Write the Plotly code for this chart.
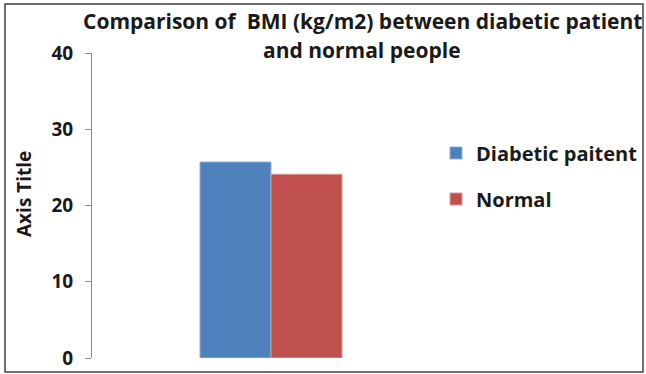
import plotly.graph_objects as go

categories = ["BMI"]
series_names = ["Diabetic paitent", "Normal"]
diabetic_values = [25.7]
normal_values = [24.1]
y_ticks = [0, 10, 20, 30, 40]
title_lines = ["Comparison of  BMI (kg/m2) between diabetic patient", "and normal people"]
y_title = "Axis Title"

FONT = "Open Sans"
TXT = "#1a1a1a"

fig = go.Figure()
fig.add_trace(go.Bar(x=categories, y=diabetic_values, name=series_names[0],
                     marker=dict(color="#4F81BD", line=dict(color="#8EB0DA", width=1)),
                     legendgroup="a"))
fig.add_trace(go.Bar(x=categories, y=normal_values, name=series_names[1],
                     marker=dict(color="#C0504D", line=dict(color="#DC9A98", width=1)),
                     legendgroup="b"))

L, R, T, B = 92, 6, 53, 16
W, H = 646 - L - R, 374 - T - B

def px(x):
    return (x - L) / W

def py(y):
    return (374 - B - y) / H

# x range so the bar group (0.8 units wide) is 142 px wide and centred at 271 px
u = 142 / 0.8
x0 = -(271 - L) / u
x1 = x0 + W / u

fig.update_layout(
    width=646, height=374,
    margin=dict(l=L, r=R, t=T, b=B, autoexpand=False),
    paper_bgcolor="white", plot_bgcolor="white",
    barmode="group", bargap=0.2, bargroupgap=0,
    font=dict(family=FONT, color=TXT),
    legend=dict(x=px(436), y=py(176), xanchor="left", yanchor="middle",
                font=dict(family=FONT, size=20, color=TXT, weight="bold"),
                tracegroupgap=17, itemwidth=30, bgcolor="rgba(0,0,0,0)"),
    xaxis=dict(range=[x0, x1], showline=False, showticklabels=False, ticks="",
               showgrid=False, zeroline=False, automargin=False),
    yaxis=dict(range=[0, 40], tickvals=y_ticks, showgrid=False, zeroline=False,
               showline=True, linecolor="#8c8c8c", linewidth=1,
               ticks="outside", ticklen=6, tickcolor="#8c8c8c",
               tickfont=dict(family=FONT, size=19, color=TXT, weight="bold"),
               ticklabelstandoff=8, automargin=False),
)

for text, ypix in zip(title_lines, [21, 50]):
    fig.add_annotation(text=text, xref="paper", yref="paper", x=px(362), y=py(ypix),
                       xanchor="center", yanchor="middle", showarrow=False,
                       font=dict(family=FONT, size=21, color=TXT, weight="bold"))

fig.add_annotation(text=y_title, xref="paper", yref="paper", x=px(24), y=py(194),
                   xanchor="center", yanchor="middle", textangle=-90, showarrow=False,
                   font=dict(family=FONT, size=19, color=TXT, weight="bold"))

fig.add_shape(type="rect", xref="paper", yref="paper",
              x0=px(5), x1=px(643), y0=py(372), y1=py(4),
              line=dict(color="#6e6e6e", width=2), fillcolor="rgba(0,0,0,0)", layer="below")

fig.write_html("out.html", config={"displayModeBar": False},
               post_script="document.body.style.margin='0';document.body.style.overflow='hidden';")
